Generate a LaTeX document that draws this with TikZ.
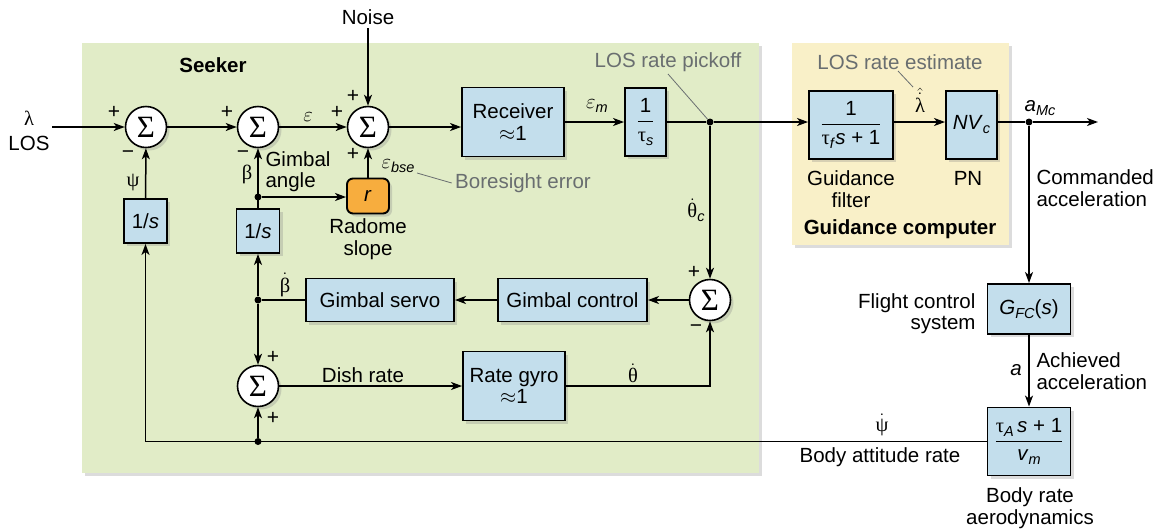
\documentclass[tikz,border=0pt]{standalone}
\usepackage{fontspec}
\setmainfont{Liberation Sans}
\newfontfamily\gk{Liberation Serif}
\usetikzlibrary{arrows.meta,shadows,calc}
\definecolor{blockblue}{RGB}{195,222,236}
\definecolor{seekgreen}{RGB}{225,236,199}
\definecolor{guideyellow}{RGB}{249,240,200}
\definecolor{radorange}{RGB}{247,173,62}
\definecolor{annogrey}{RGB}{105,110,112}
\newcommand{\sbs}[1]{\raisebox{-4pt}{\fontsize{14.5}{14.5}\selectfont\rmfamily\itshape #1}}
\begin{document}
\begin{tikzpicture}[x=1pt,y=-1pt,font=\fontsize{20.5}{21.5}\selectfont,
  shd/.style={drop shadow={shadow xshift=3pt,shadow yshift=-3pt,opacity=0.28}},
  blk/.style={draw,line width=1.9pt,fill=blockblue,inner sep=0pt,align=center,shd},
  sumc/.style={circle,draw,line width=1.6pt,fill=white,minimum size=41pt,inner sep=0pt,shd},
  arr/.style={line width=1.5pt,-{Stealth[length=11pt,width=8pt,inset=3pt]}},
  ln/.style={line width=1.5pt},
  jdot/.style={circle,fill=black,inner sep=0pt,minimum size=7pt},
  anno/.style={text=annogrey},
  leadline/.style={draw=annogrey,line width=0.8pt},
  sgn/.style={font=\fontsize{21}{21}\selectfont,inner sep=0pt}
]
\useasboundingbox (0,0) rectangle (1164,531);
% panels
\node[fill=seekgreen,shd,minimum width=677pt,minimum height=430pt,inner sep=0pt,anchor=north west] (seeker) at (82,43) {};
\node[fill=guideyellow,shd,minimum width=217pt,minimum height=202pt,inner sep=0pt,anchor=north west] (guide) at (792,43) {};
\node[font=\bfseries\fontsize{20.5}{21.5}\selectfont] (seektitle) at (213,65) {Seeker};
\node[font=\bfseries\fontsize{20.5}{21.5}\selectfont] (guidetitle) at (900,229) {Guidance computer};
% summing junctions
\node[sumc] (S1) at (146,127) {\gk\fontsize{31}{31}\selectfont Σ};
\node[sumc] (S2) at (258,127) {\gk\fontsize{31}{31}\selectfont Σ};
\node[sumc] (S3) at (368,127) {\gk\fontsize{31}{31}\selectfont Σ};
\node[sumc] (S4) at (710,300) {\gk\fontsize{31}{31}\selectfont Σ};
\node[sumc] (S5) at (258,386) {\gk\fontsize{31}{31}\selectfont Σ};
% blocks
\node[blk,minimum width=43pt,minimum height=44pt] (invL) at (145.5,221) {1/\textit{s}};
\node[blk,minimum width=43pt,minimum height=44pt] (invM) at (258,231) {1/\textit{s}};
\node[draw,line width=1.9pt,fill=radorange,rounded corners=6pt,minimum width=42pt,minimum height=35pt,inner sep=0pt,shd] (rbx) at (368,196) {\textit{r}};
\node[blk,minimum width=102pt,minimum height=69pt] (recv) at (513,122) {Receiver\\$\approx$1};
\node[blk,minimum width=41pt,minimum height=68pt] (tau) at (645.5,122) {$\displaystyle{\hbox{1}\above1.2pt\hbox{{\gk τ}\sbs{s}}}$};
\node[blk,minimum width=84pt,minimum height=68pt] (gf) at (851,125) {$\displaystyle{\hbox{1}\above1.2pt\hbox{{\gk τ}\sbs{f}\kern1.5pt\textit{s} + 1}}$};
\node[blk,minimum width=51pt,minimum height=68pt] (pn) at (971.5,125) {\textit{NV}\sbs{c}};
\node[blk,minimum width=148pt,minimum height=43pt] (gs) at (380,300) {Gimbal servo};
\node[blk,minimum width=149pt,minimum height=43pt] (gc) at (572.5,300) {Gimbal control};
\node[blk,minimum width=102pt,minimum height=69pt] (rg) at (514,386) {Rate gyro\\$\approx$1};
\node[blk,minimum width=83pt,minimum height=50pt] (gfc) at (1029,309) {\textit{G}\sbs{FC}(\textit{s})};
\node[blk,minimum width=83pt,minimum height=68pt] (bra) at (1029,441.5) {$\displaystyle{\hbox{{\gk τ}\sbs{A}\,\textit{s} + 1}\above1.2pt\hbox{\textit{v}\sbs{m}}}$};
% junction dots and coordinates
\node[jdot] (pk) at (710,122) {};
\node[jdot] (am) at (1029,122) {};
\node[jdot] (ga) at (258,197) {};
\node[jdot] (bd) at (258,300) {};
\node[jdot] (bb) at (258,441.5) {};
\coordinate (lin) at (52,127);
\coordinate (out) at (1098,122);
\coordinate (td) at (710,386);
\node (noise) at (368,17) {Noise};
% connectors
\draw[arr] (lin) -- (S1);
\draw[arr] (S1) -- (S2);
\draw[arr] (S2) -- (S3);
\draw[arr] (noise) -- (S3);
\draw[arr] (S3.east) -- (S3.east -| recv.west);
\draw[arr] (recv) -- (tau);
\draw[ln] (tau) -- (pk);
\draw[arr] (pk) -- (pk -| gf.west);
\draw[arr] (gf.east |- pk) -- (pn.west |- pk);
\draw[ln] (pn.east |- am) -- (am);
\draw[arr] (am) -- (out);
\draw[arr] (am) -- (gfc);
\draw[arr] (gfc) -- (bra);
\draw[arr] (bra.west) -- (bra.west -| invL.south) -- (invL.south);
\draw[arr] (bb) -- (S5);
\draw[arr] (invL) -- (S1);
\draw[arr] (invM) -- (S2);
\draw[arr] (ga) -- (ga -| rbx.west);
\draw[arr] (rbx) -- (S3);
\draw[arr] (pk) -- (S4);
\draw[arr] (S4) -- (gc);
\draw[arr] (gc) -- (gs);
\draw[ln] (gs) -- (bd);
\draw[arr] (bd) -- (invM);
\draw[arr] (bd) -- (S5);
\draw[arr] (S5) -- (S5 -| rg.west);
\draw[arr] (rg.east) -- (td) -- (S4);
% signs
\node[sgn] (p1) at (114,112) {+};
\node[sgn] (m1) at (128,155) {−};
\node[sgn] (p2) at (227,112) {+};
\node[sgn] (m2) at (243,155) {−};
\node[sgn] (p3a) at (337,112) {+};
\node[sgn] (p3b) at (353,96) {+};
\node[sgn] (p3c) at (353,154) {+};
\node[sgn] (p4a) at (694,272) {+};
\node[sgn] (m4) at (696,329) {−};
\node[sgn] (p5a) at (273,357) {+};
\node[sgn] (p5b) at (273,418) {+};
% signal labels
\node (llam) at (29,118) {\gk λ};
\node (llos) at (29,143) {LOS};
\node (leps) at (308,117) {$\varepsilon$};
\node (lpsi) at (133,183) {\gk ψ};
\node (lbeta) at (247,174) {\gk β};
\node[align=left,anchor=west] (lgim) at (262,171.5) {Gimbal\\angle};
\node (lebse) at (398,166) {$\varepsilon$\sbs{bse}};
\node (lem) at (597,106) {$\varepsilon$\sbs{m}};
\node (lthc) at (696,210) {$\dot{\hbox{\gk θ}}$\sbs{c}};
\node (lbd) at (285,285) {$\dot{\hbox{\gk β}}$};
\node (lth) at (633,373) {$\dot{\hbox{\gk θ}}$};
\node (ldish) at (363,375) {Dish rate};
\node[align=center] (lrad) at (368,239) {Radome\\slope};
\node (llh) at (920,100) {$\hat{\dot{\hbox{\gk λ}}}$};
\node[align=center] (lgf) at (851,189) {Guidance\\filter};
\node (lpn) at (968,178) {PN};
\node (lamc) at (1040,108) {\textit{a}\sbs{Mc}};
\node[align=left,anchor=west] (lcmd) at (1033,188) {Commanded\\acceleration};
\node[align=right,anchor=east] (lfcs) at (979,313.5) {Flight control\\system};
\node (la) at (1016,370) {\textit{a}};
\node[align=left,anchor=west] (lach) at (1033,371) {Achieved\\acceleration};
\node (lpsid) at (882,425) {$\dot{\hbox{\gk ψ}}$};
\node (lbar) at (880,457) {Body attitude rate};
\node[align=center] (lbra) at (1030,508) {Body rate\\aerodynamics};
% grey annotations
\node[anno] (apick) at (668,62) {LOS rate pickoff};
\node[anno] (abore) at (523,183) {Boresight error};
\node[anno] (aest) at (900,62) {LOS rate estimate};
\draw[leadline] (668,74) -- (pk);
\draw[leadline] (417,173) -- (abore.west);
\draw[leadline] (898,71) -- (913,87);
\end{tikzpicture}
\end{document}
